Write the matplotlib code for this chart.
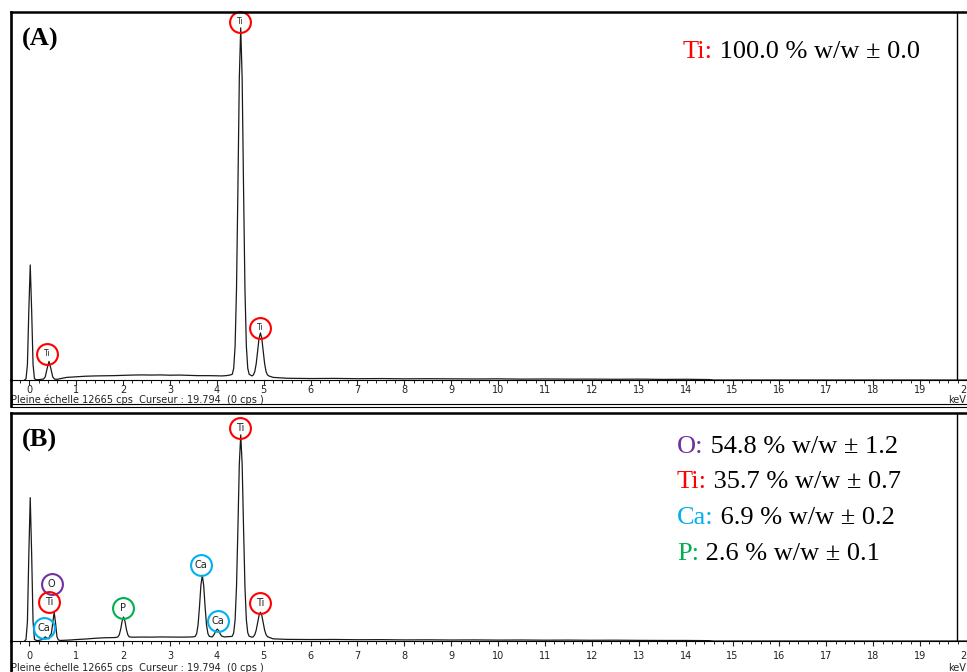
import matplotlib
matplotlib.use('Agg')
import matplotlib.pyplot as plt
from matplotlib.lines import Line2D
from matplotlib.ticker import FixedLocator, MultipleLocator

W, H = 967, 672

# spectre (A) : titane pur  (keV, cps)
energie_a = [-0.10, -0.07, -0.04, -0.01, 0.02, 0.05, 0.08, 0.11, 0.15, 0.22, 0.28,
             0.30, 0.34, 0.38, 0.42, 0.46, 0.50, 0.54, 0.60, 0.70, 0.80, 0.90, 1.0,
             1.2, 1.4, 1.6, 1.8, 2.0, 2.2, 2.4, 2.6, 2.8, 3.0, 3.2, 3.4, 3.6, 3.8,
             4.0, 4.1, 4.2, 4.28,
             4.33, 4.36, 4.39, 4.42, 4.45, 4.48, 4.51, 4.54, 4.57, 4.60, 4.63, 4.66, 4.69,
             4.73,
             4.75, 4.78, 4.81, 4.84, 4.87, 4.90, 4.93, 4.96, 4.99, 5.02, 5.05, 5.08, 5.11,
             5.2, 5.5, 6.0, 6.5, 7.0, 7.5, 8.0, 8.5, 9.0, 9.5, 10.0, 10.5, 11.0, 11.5,
             12.0, 12.5, 13.0, 13.5, 14.0, 14.5, 14.6, 20.0]
cps_a = [0, 44, 534, 2400, 3958, 2400, 534, 44, 10, 15, 30,
         30, 105, 395, 640, 395, 105, 30, 25, 60, 90, 100, 110,
         130, 140, 145, 150, 160, 170, 175, 170, 175, 165, 170, 160, 150, 150,
         145, 140, 150, 170,
         198, 401, 1167, 3130, 6614, 10408, 12120, 10408, 6614, 3130, 1167, 401, 198,
         160,
         140, 176, 292, 559, 987, 1428, 1620, 1428, 987, 559, 292, 176, 140,
         90, 60, 50, 55, 45, 50, 40, 45, 40, 35, 40, 30, 35, 30,
         30, 25, 30, 20, 25, 15, 0, 0]

# spectre (B) : surface traitée  (keV, cps)
energie_b = [-0.10, -0.07, -0.04, -0.01, 0.02, 0.05, 0.08, 0.11, 0.16, 0.22, 0.27,
             0.30, 0.34, 0.38, 0.42,
             0.44, 0.47, 0.50, 0.53, 0.56, 0.59, 0.62, 0.66,
             0.75, 0.9, 1.0, 1.2, 1.4, 1.6, 1.8, 1.86,
             1.89, 1.92, 1.95, 1.98, 2.01, 2.04, 2.07, 2.10, 2.13,
             2.2, 2.4, 2.6, 2.8, 3.0, 3.2, 3.4, 3.5,
             3.54, 3.57, 3.60, 3.63, 3.66, 3.69, 3.72, 3.75, 3.78, 3.81, 3.84,
             3.90,
             3.92, 3.95, 3.98, 4.01, 4.04, 4.07, 4.10,
             4.16, 4.24, 4.30,
             4.33, 4.36, 4.39, 4.42, 4.45, 4.48, 4.51, 4.54, 4.57, 4.60, 4.63, 4.66, 4.69,
             4.73,
             4.75, 4.78, 4.81, 4.84, 4.87, 4.90, 4.93, 4.96, 4.99, 5.02, 5.05, 5.08, 5.11,
             5.2, 5.5, 6.0, 6.5, 7.0, 7.5, 8.0, 8.5, 9.0, 9.5, 10.0, 10.5, 11.0, 11.5,
             12.0, 12.5, 13.0, 13.5, 14.0, 14.5, 14.6, 20.0]
cps_b = [0, 88, 1075, 4835, 7965, 4835, 1075, 88, 20, 40, 80,
         130, 230, 150, 120,
         300, 400, 1000, 1600, 1000, 240, 60, 30,
         40, 60, 80, 110, 150, 180, 190, 200,
         232, 353, 664, 1104, 1330, 1104, 664, 353, 232,
         210, 220, 215, 225, 220, 215, 220, 230,
         258, 412, 899, 1890, 3085, 3650, 3085, 1890, 899, 412, 258,
         225,
         280, 401, 572, 660, 572, 401, 280,
         225, 240, 250,
         265, 456, 1175, 3016, 6284, 9844, 11450, 9844, 6284, 3016, 1175, 456, 265,
         230,
         210, 243, 353, 603, 1005, 1419, 1600, 1419, 1005, 603, 353, 243, 210,
         120, 90, 80, 85, 70, 75, 60, 65, 55, 60, 50, 55, 45, 50,
         40, 45, 35, 30, 30, 20, 0, 0]

pleine_echelle = 12665
curseur = 19.794

# composition (% w/w) et incertitude
elements_a = ['Ti']
teneur_a = [100.0]
erreur_a = [0.0]
elements_b = ['O', 'Ti', 'Ca', 'P']
teneur_b = [54.8, 35.7, 6.9, 2.6]
erreur_b = [1.2, 0.7, 0.2, 0.1]

couleurs = {'O': '#7030A0', 'Ti': '#FF0000', 'Ca': '#00B0F0', 'P': '#00B050'}

# identification des pics (element, keV, cps du cercle)
pics_a = [('Ti', 4.49, 12322), ('Ti', 4.92, 1790), ('Ti', 0.38, 895)]
pics_b = [('Ti', 4.49, 11836), ('O', 0.48, 3150), ('Ti', 0.43, 2180),
          ('Ca', 0.32, 720), ('P', 1.99, 1830), ('Ca', 3.66, 4220),
          ('Ca', 4.03, 1100), ('Ti', 4.93, 2130)]


def px(x, y):
    return x / W, 1 - y / H


def cadre(x0, y0, x1, y1):
    return [x0 / W, 1 - y1 / H, (x1 - x0) / W, (y1 - y0) / H]


def e_px(x):
    return (x - 29.3) / 46.88


fig = plt.figure(figsize=(W / 100, H / 100), dpi=100)


def panneau(haut, base, bas, energie, cps, lettre, pics, elements, teneur, erreur,
            x_txt, y_txt, taille_pic, pad_ticks, y_legende):
    ax = fig.add_axes(cadre(11, haut, 1000, base))
    ax.plot(energie, cps, color='#1a1a1a', lw=0.9)
    ax.axvline(curseur, color='k', lw=1.0)
    ax.set_xlim(e_px(11), e_px(1000))
    ax.set_ylim(0, pleine_echelle)
    ax.set_yticks([])
    ax.xaxis.set_major_locator(FixedLocator(range(21)))
    ax.xaxis.set_minor_locator(MultipleLocator(0.2))
    ax.tick_params(axis='x', which='major', direction='out', length=3.5, width=0.8,
                   labelsize=7, pad=pad_ticks, colors='#222222')
    ax.tick_params(axis='x', which='minor', direction='out', length=2, width=0.6)
    ax.spines['right'].set_visible(False)
    ax.spines['left'].set_linewidth(1.9)
    ax.spines['top'].set_linewidth(1.8)
    ax.spines['bottom'].set_linewidth(0.8)

    for el, e, c in pics:
        ax.plot(e, c, 'o', ms=15, mfc='none', mec=couleurs[el], mew=1.5, clip_on=False)
        ax.text(e, c, el, ha='center', va='center', fontsize=taille_pic, color='#222222')

    x, y = px(22, haut + 27)
    fig.text(x, y, lettre, fontsize=19, weight='bold', family='Liberation Serif', va='center')

    # teneurs : symbole en couleur, le reste en noir à la suite
    for i, el in enumerate(elements):
        x, y = px(x_txt, y_txt + i * 35.5)
        t = fig.text(x, y, el + ':', color=couleurs[el], fontsize=19,
                     family='Liberation Serif', va='center')
        ax.annotate(' %.1f %% w/w \u00b1 %.1f' % (teneur[i], erreur[i]),
                    xy=(1, 0), xycoords=t, va='bottom', ha='left',
                    fontsize=19, family='Liberation Serif', annotation_clip=False)

    x, y = px(11, y_legende)
    fig.text(x, y, 'Pleine échelle 12665 cps  Curseur : 19.794  (0 cps )',
             fontsize=7, va='center', color='#222222')
    x, y = px(948, y_legende)
    fig.text(x, y, 'keV', fontsize=7, va='center', color='#222222')

    # bord gauche sous l'axe et double trait du bas
    x0, y0 = px(11, base)
    x1, y1 = px(11, bas)
    fig.add_artist(Line2D([x0, x1], [y0, y1], color='k', lw=1.9, zorder=5))
    for yb in (bas - 2, bas + 0.5):
        _, yy = px(0, yb)
        fig.add_artist(Line2D([11 / W, 1], [yy, yy], color='k', lw=0.8, zorder=5))


panneau(12, 380, 406, energie_a, cps_a, '(A)', pics_a, elements_a, teneur_a, erreur_a,
        683, 52, 5.5, 0.3, 400)
panneau(413, 641, 690, energie_b, cps_b, '(B)', pics_b, elements_b, teneur_b, erreur_b,
        677, 447, 7, 3.5, 668)

fig.savefig('out.png', dpi=100)
